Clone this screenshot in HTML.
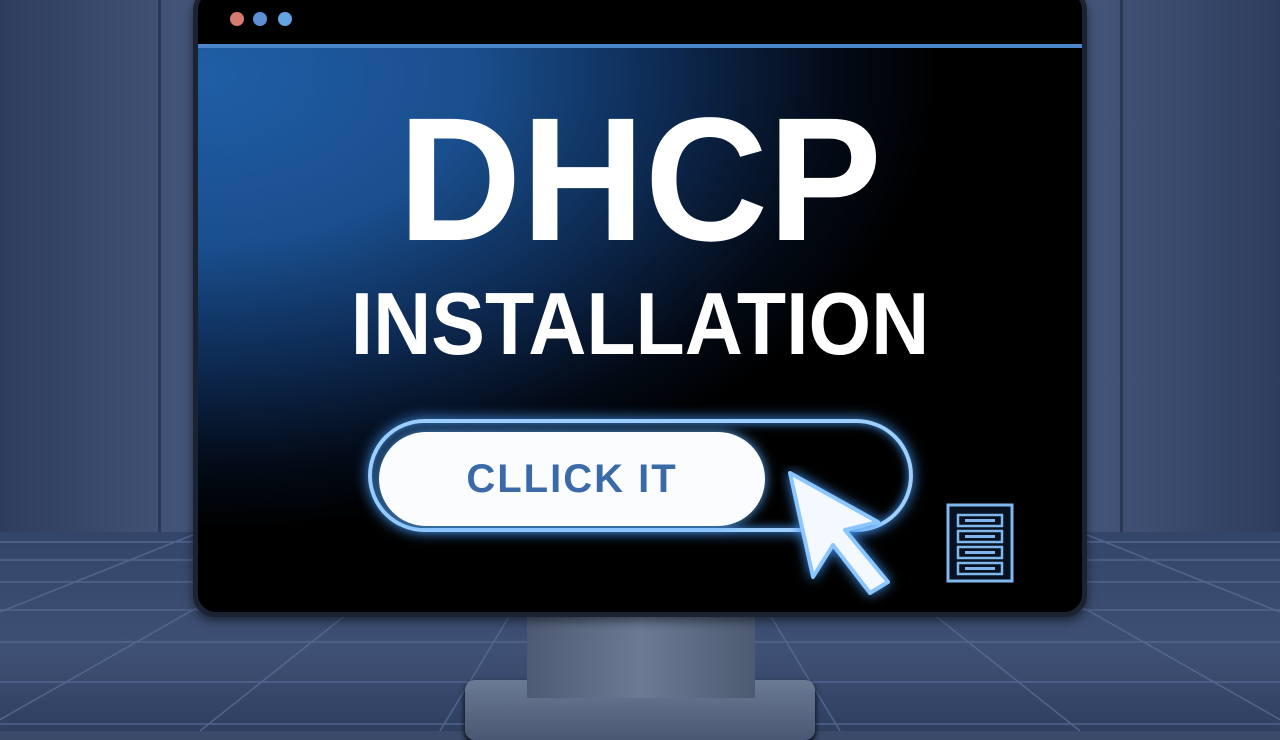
<!DOCTYPE html>
<html><head><meta charset="utf-8"><style>
html,body{margin:0;padding:0}
body{width:1280px;height:731px;overflow:hidden;position:relative;background:#3a4a68;font-family:"Liberation Sans",sans-serif}
.wall{position:absolute;left:0;top:0;width:1280px;height:532px;background:linear-gradient(90deg,#2e3d5c 0%,#44557a 15%,#3d4e72 50%,#44557a 85%,#2e3d5c 100%)}
.floor{position:absolute;left:0;top:532px;width:1280px;height:199px;background:linear-gradient(#34456a,#3e5074 60%,#2f3f60)}
.a{position:absolute}
</style></head><body>
<div class="wall"></div>
<div class="a" style="left:158px;top:0;width:3px;height:532px;background:#2a3856"></div>
<div class="a" style="left:1120px;top:0;width:3px;height:532px;background:#2a3856"></div>
<div class="floor"></div>
<svg class="a" style="left:0;top:532px" width="1280" height="199">
<g stroke="#5a6d95" stroke-width="1.5" fill="none" opacity="0.8">
<line x1="0" y1="10" x2="1280" y2="10"/><line x1="0" y1="28" x2="1280" y2="28"/>
<line x1="0" y1="50" x2="1280" y2="50"/><line x1="0" y1="78" x2="1280" y2="78"/>
<line x1="0" y1="110" x2="1280" y2="110"/><line x1="0" y1="150" x2="1280" y2="150"/>
<line x1="0" y1="192" x2="1280" y2="192"/>
<line x1="560" y1="0" x2="440" y2="199"/><line x1="720" y1="0" x2="840" y2="199"/>
<line x1="450" y1="0" x2="200" y2="199"/><line x1="830" y1="0" x2="1080" y2="199"/>
<line x1="330" y1="0" x2="-20" y2="199"/><line x1="950" y1="0" x2="1300" y2="199"/>
<line x1="200" y1="0" x2="-200" y2="160"/><line x1="1080" y1="0" x2="1480" y2="160"/>
</g></svg>
<!-- stand -->
<div class="a" style="left:465px;top:680px;width:350px;height:60px;border-radius:10px;background:linear-gradient(#6b7a95,#4a5772);box-shadow:0 3px 6px #000"></div>
<div class="a" style="left:527px;top:610px;width:228px;height:88px;background:linear-gradient(90deg,#4d5a72,#6c7a94 50%,#4d5a72)"></div>
<!-- monitor -->
<div class="a" style="left:193px;top:-12px;width:894px;height:629px;border-radius:22px;background:#1b2232;box-shadow:0 4px 10px rgba(0,0,0,.5)"></div>
<div class="a" style="left:198px;top:-8px;width:884px;height:620px;border-radius:18px;overflow:hidden;background:#000">
 <div class="a" style="left:0;top:55px;width:884px;height:565px;background:radial-gradient(ellipse 780px 480px at 0% 5%,#1f5ea6 0%,#1a4f8e 35%,#0d2a52 60%,#030a16 82%,#000 95%)"></div>
 <div class="a" style="left:0;top:52px;width:884px;height:4px;background:#4a86c8"></div>
 <div class="a" style="left:32px;top:20px;width:14px;height:14px;border-radius:50%;background:#d77a72"></div>
 <div class="a" style="left:55px;top:20px;width:14px;height:14px;border-radius:50%;background:#5c8fd6"></div>
 <div class="a" style="left:80px;top:20px;width:14px;height:14px;border-radius:50%;background:#64a4e4"></div>
</div>
<div class="a" style="left:0;top:92px;width:1280px;text-align:center;color:#fff;font-weight:bold;font-size:176px;line-height:176px;transform:scaleX(0.97)">DHCP</div>
<div class="a" style="left:0;top:280px;width:1280px;text-align:center;color:#fff;font-weight:bold;font-size:88px;line-height:88px;transform:scaleX(0.915)">INSTALLATION</div>
<!-- button -->
<div class="a" style="left:368px;top:419px;width:545px;height:113px;border-radius:57px;border:4px solid #9dd0ff;box-shadow:0 0 14px #3f8fe8,inset 0 0 10px #3f8fe8;box-sizing:border-box"></div>
<div class="a" style="left:379px;top:432px;width:386px;height:94px;border-radius:47px;background:#fbfcfd;box-shadow:0 0 12px #5aa6f0;text-align:center;color:#3c6aa8;font-weight:bold;font-size:40px;line-height:94px;letter-spacing:2px">CLLICK IT</div>
<svg class="a" style="left:780px;top:465px" width="125" height="140">
<polygon points="10,8 98,57 65,65 108,117 90,128 53,80 33,112" fill="#f4f9ff" stroke="#8cc6ff" stroke-width="4" stroke-linejoin="round" style="filter:drop-shadow(0 0 6px #3f8fe8)"/>
</svg>
<svg class="a" style="left:945px;top:502px" width="72" height="84">
<rect x="3" y="3" width="64" height="76" fill="#07111f" stroke="#7fb8ee" stroke-width="3"/>
<g fill="none" stroke="#7fb8ee" stroke-width="2.5">
<rect x="13" y="13" width="44" height="11"/><rect x="13" y="29" width="44" height="11"/>
<rect x="13" y="45" width="44" height="11"/><rect x="13" y="61" width="44" height="11"/></g>
<g fill="#7fb8ee"><rect x="20" y="17" width="30" height="3"/><rect x="20" y="33" width="30" height="3"/><rect x="20" y="49" width="30" height="3"/><rect x="20" y="65" width="30" height="3"/></g>
</svg>
</body></html>
